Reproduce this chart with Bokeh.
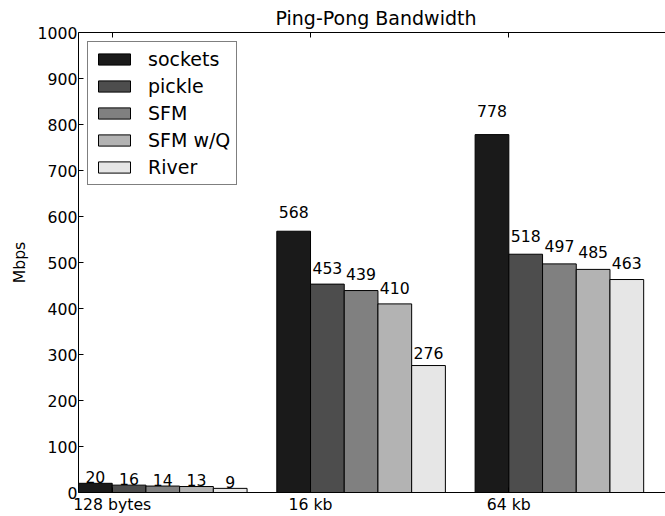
from bokeh.plotting import figure
from bokeh.models import (FixedTicker, LinearAxis, Range1d, ColumnDataSource,
                          CustomJSTickFormatter, Legend)
from bokeh.embed import file_html
from bokeh.resources import INLINE

# ---- data ----
categories = ["128 bytes", "16 kb", "64 kb"]
series_names = ["sockets", "pickle", "SFM", "SFM w/Q", "River"]
sockets = [20, 568, 778]
pickle_vals = [16, 453, 518]
sfm = [14, 439, 497]
sfm_wq = [13, 410, 485]
river = [9, 276, 463]
series_values = [sockets, pickle_vals, sfm, sfm_wq, river]
colors = ["#1a1a1a", "#4d4d4d", "#808080", "#b3b3b3", "#e6e6e6"]
y_ticks = [0, 100, 200, 300, 400, 500, 600, 700, 800, 900, 1000]

FONT = "DejaVu Sans"
bar_w = 0.17

p = figure(width=665, height=516, output_backend="svg", toolbar_location=None,
           x_range=Range1d(-bar_w, 2.79), y_range=Range1d(0, 1000),
           min_border_left=78, min_border_right=0, min_border_top=32,
           min_border_bottom=10)

p.title.text = "Ping-Pong Bandwidth"
p.title.text_font = FONT
p.title.text_font_size = "19px"
p.title.text_font_style = "normal"
p.title.text_color = "black"
p.title.align = "left"
p.title.offset = 197
p.title.standoff = 7

p.outline_line_color = None
p.xgrid.visible = False
p.ygrid.visible = False
p.background_fill_color = "white"
p.border_fill_color = "white"

legend_items = []
for j, (name, vals, col) in enumerate(zip(series_names, series_values, colors)):
    xs = [i + (j - 0.5) * bar_w for i in range(len(categories))]
    src = ColumnDataSource(dict(x=xs, top=vals,
                                ly=[v * 1.05 for v in vals],
                                lab=[str(v) for v in vals]))
    r = p.vbar(x="x", top="top", width=bar_w, source=src, fill_color=col,
               line_color="black", line_width=1)
    legend_items.append((name, [r]))
    p.text(x="x", y="ly", text="lab", source=src, text_align="center",
           text_baseline="bottom", text_font_size="15.7px",
           text_font={"value": FONT}, text_color="black")

legend = Legend(items=legend_items, location="top_left")
legend.label_text_font = FONT
legend.label_text_font_size = "19px"
legend.label_text_color = "black"
legend.glyph_width = 40
legend.glyph_height = 14
legend.label_standoff = 14
legend.spacing = 5
legend.padding = 6
legend.margin = 9
legend.label_height = 22
legend.border_line_color = "black"
legend.border_line_width = 1
legend.background_fill_alpha = 1
p.add_layout(legend)

# axes styling
xa = p.xaxis[0]
xa.ticker = FixedTicker(ticks=list(range(len(categories))))
xa.major_label_overrides = {i: c for i, c in enumerate(categories)}
ya = p.yaxis[0]
ya.ticker = FixedTicker(ticks=y_ticks)
ya.axis_label = "Mbps"

for ax in (xa, ya):
    ax.axis_line_color = "black"
    ax.axis_line_width = 1
    ax.major_tick_in = 5
    ax.major_tick_out = 0
    ax.minor_tick_line_color = None
    ax.major_label_text_font = FONT
    ax.major_label_text_font_size = "15.7px"
    ax.major_label_text_color = "black"

xa.major_label_standoff = 2
ya.major_label_standoff = 1

ya.axis_label_text_font = FONT
ya.axis_label_text_font_size = "15.7px"
ya.axis_label_text_font_style = "normal"
ya.axis_label_text_color = "black"
ya.axis_label_standoff = 6

top_ax = LinearAxis(ticker=FixedTicker(ticks=list(range(len(categories)))),
                    formatter=CustomJSTickFormatter(code="return ''"))
top_ax.axis_line_color = "black"
top_ax.major_tick_in = 5
top_ax.major_tick_out = 0
top_ax.minor_tick_line_color = None
top_ax.major_label_text_font_size = "0px"
top_ax.major_label_standoff = 0
p.add_layout(top_ax, "above")

open("out.html", "w").write(file_html(p, INLINE))
